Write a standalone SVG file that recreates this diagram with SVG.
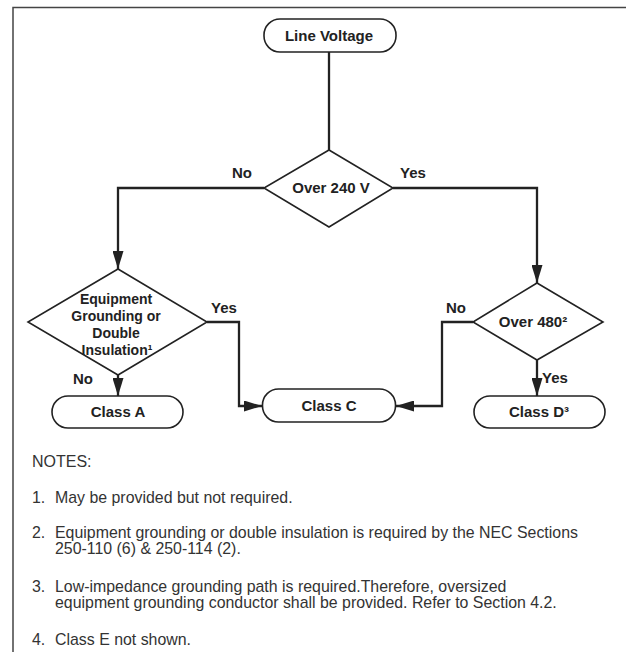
<svg xmlns="http://www.w3.org/2000/svg" width="626" height="652" viewBox="0 0 626 652">
<style>
.shape{fill:#fff;stroke:#222;stroke-width:1.6}
.conn{fill:none;stroke:#222;stroke-width:2.3}
.lbl{font-family:"Liberation Sans",Arial,sans-serif;font-weight:bold;font-size:15px;fill:#222}
.lbl14{font-family:"Liberation Sans",Arial,sans-serif;font-weight:bold;font-size:14px;fill:#222}
.note{font-family:"Liberation Sans",Arial,sans-serif;font-size:15.9px;fill:#333}
</style>
<defs>
<marker id="arr" viewBox="0 0 18 11" refX="18" refY="5.5" markerWidth="18" markerHeight="11" markerUnits="userSpaceOnUse" orient="auto">
<path d="M0,0 L18,5.5 L0,11 Z" fill="#222"/>
</marker>
</defs>
<rect width="626" height="652" fill="#fff"/>
<path d="M13,652 V7.5 H626" fill="none" stroke="#444" stroke-width="1.5"/>

<g id="connectors">
<path class="conn" d="M329,52 V150"/>
<path class="conn" d="M264,188 H118 V269" marker-end="url(#arr)"/>
<path class="conn" d="M393,188 H537 V283" marker-end="url(#arr)"/>
<path class="conn" d="M207,322 H239 V406 H262" marker-end="url(#arr)"/>
<path class="conn" d="M473,322 H442 V406 H396" marker-end="url(#arr)"/>
<path class="conn" d="M118,375 V396" marker-end="url(#arr)"/>
<path class="conn" d="M537,360 V396" marker-end="url(#arr)"/>
<text class="lbl" x="242" y="178" text-anchor="middle">No</text>
<text class="lbl" x="413" y="178" text-anchor="middle">Yes</text>
<text class="lbl" x="224" y="313" text-anchor="middle">Yes</text>
<text class="lbl" x="83" y="384" text-anchor="middle">No</text>
<text class="lbl" x="456" y="313" text-anchor="middle">No</text>
<text class="lbl" x="555" y="383" text-anchor="middle">Yes</text>
</g>

<g id="line-voltage">
<rect class="shape" x="264" y="19" width="132" height="33" rx="16" ry="16"/>
<text class="lbl" x="329" y="41" text-anchor="middle">Line Voltage</text>
</g>

<g id="over-240">
<polygon class="shape" points="329,150 393,188 329,227 264,188"/>
<text class="lbl" x="331" y="193" text-anchor="middle">Over 240 V</text>
</g>

<g id="equipment-grounding">
<polygon class="shape" points="118,269 207,322 118,375 28,322"/>
<text class="lbl14" text-anchor="middle">
<tspan x="118" y="304">Equipment</tspan>
<tspan x="118" y="321">Grounding or</tspan>
<tspan x="118" y="338">Double</tspan>
<tspan x="117" y="355">Insulation¹</tspan>
</text>
</g>

<g id="over-480">
<polygon class="shape" points="537,283 603,322 537,360 473,322"/>
<text class="lbl" x="533" y="327" text-anchor="middle">Over 480²</text>
</g>

<g id="class-a">
<rect class="shape" x="52" y="396" width="131" height="32" rx="16" ry="16"/>
<text class="lbl" x="118" y="417" text-anchor="middle">Class A</text>
</g>

<g id="class-c">
<rect class="shape" x="262.5" y="389" width="133" height="33" rx="16" ry="16"/>
<text class="lbl" x="329" y="411" text-anchor="middle">Class C</text>
</g>

<g id="class-d">
<rect class="shape" x="474" y="396" width="131" height="32" rx="16" ry="16"/>
<text class="lbl" x="539" y="417" text-anchor="middle">Class D³</text>
</g>

<g id="notes">
<text class="note" x="32" y="467" style="font-size:16px">NOTES:</text>
<text class="note"><tspan x="32" y="503">1.</tspan><tspan x="55" y="503">May be provided but not required.</tspan></text>
<text class="note"><tspan x="32" y="538">2.</tspan><tspan x="55" y="538">Equipment grounding or double insulation is required by the NEC Sections</tspan><tspan x="55" y="554">250-110 (6) &amp; 250-114 (2).</tspan></text>
<text class="note"><tspan x="32" y="592">3.</tspan><tspan x="55" y="592">Low-impedance grounding path is required.Therefore, oversized</tspan><tspan x="55" y="608">equipment grounding conductor shall be provided. Refer to Section 4.2.</tspan></text>
<text class="note"><tspan x="32" y="645">4.</tspan><tspan x="55" y="645">Class E not shown.</tspan></text>
</g>
</svg>
